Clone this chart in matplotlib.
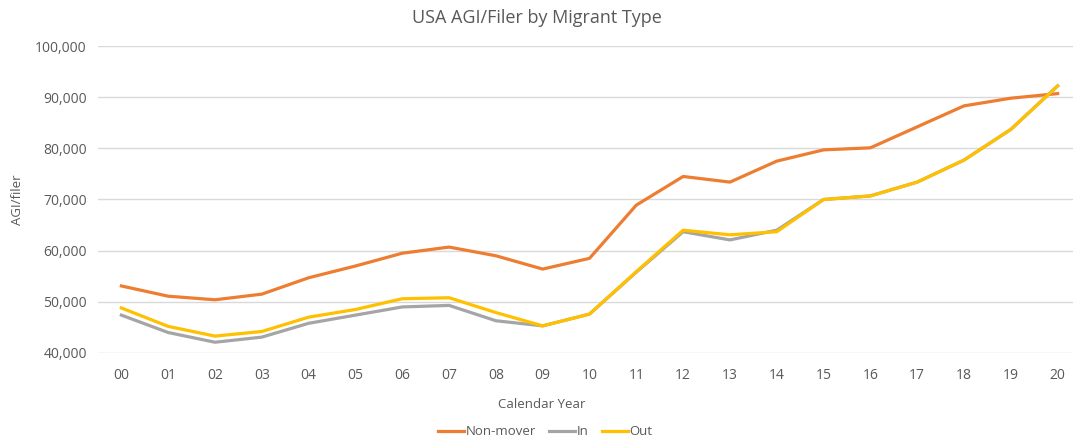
import matplotlib
matplotlib.use("Agg")
import matplotlib.pyplot as plt
import matplotlib.ticker as ticker

# Data
years = ["00", "01", "02", "03", "04", "05", "06", "07", "08", "09", "10",
         "11", "12", "13", "14", "15", "16", "17", "18", "19", "20"]
non_mover = [53100, 51100, 50400, 51500, 54700, 57000, 59500, 60700, 59000, 56400, 58500,
             68900, 74500, 73400, 77500, 79700, 80100, 84200, 88300, 89800, 90700]
in_movers = [47400, 44000, 42100, 43100, 45800, 47400, 49000, 49300, 46300, 45300, 47600,
             55800, 63700, 62100, 64000, 70000, 70700, 73400, 77700, 83700, 92200]
out_movers = [48800, 45200, 43300, 44200, 47000, 48500, 50600, 50800, 47900, 45300, 47600,
              55900, 64000, 63100, 63700, 70000, 70700, 73400, 77700, 83700, 92200]

plt.rcParams['font.family'] = ['Open Sans', 'DejaVu Sans']
text_col = '#595959'

fig = plt.figure(figsize=(10.73, 4.42), dpi=100)
ax = fig.add_axes([0.0913, 0.2014, 0.9162, 0.6945])

x = range(len(years))
ax.plot(x, non_mover, color='#ED7D31', lw=2.3, label='Non-mover', solid_joinstyle='round')
ax.plot(x, in_movers, color='#A5A5A5', lw=2.3, label='In', solid_joinstyle='round')
ax.plot(x, out_movers, color='#FFC000', lw=2.3, label='Out', solid_joinstyle='round')

ax.set_xlim(-0.5, len(years) - 0.5)
ax.set_ylim(40000, 100000)
ax.set_xticks(list(x))
ax.set_xticklabels(years)
ax.yaxis.set_major_locator(ticker.MultipleLocator(10000))
ax.yaxis.set_major_formatter(ticker.FuncFormatter(lambda v, p: f"{int(v):,}"))

ax.grid(axis='y', color='#D9D9D9', lw=1)
ax.set_axisbelow(True)
for s in ax.spines.values():
    s.set_visible(False)
ax.tick_params(length=0, labelsize=10, colors=text_col, pad=8)
ax.tick_params(axis='x', pad=11)

ax.set_ylabel("AGI/filer", fontsize=9.5, color=text_col, labelpad=8)
fig.text(0.5, 0.96, "USA AGI/Filer by Migrant Type", ha='center', va='center',
         fontsize=13, color=text_col)
fig.text(0.505, 0.085, "Calendar Year", ha='center', va='center',
         fontsize=9.5, color=text_col)

fig.legend(loc='center', bbox_to_anchor=(0.508, 0.023), ncol=3, frameon=False,
           fontsize=9.5, labelcolor=text_col, handlelength=2.0, handletextpad=0.1,
           columnspacing=1.0)

fig.savefig("out.png", dpi=100)
